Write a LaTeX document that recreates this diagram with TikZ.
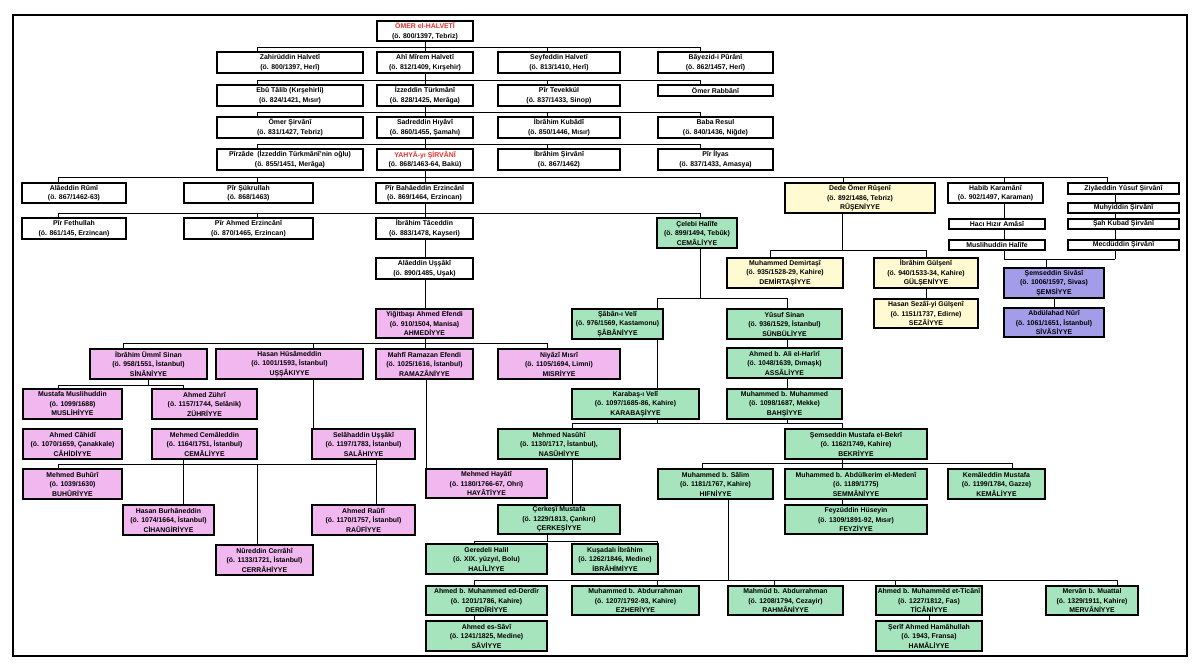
\documentclass[tikz,border=0pt]{standalone}
\usepackage{fontspec}
\setmainfont{Liberation Sans}
\usetikzlibrary{calc}
\definecolor{pk}{HTML}{F0B8EE}
\definecolor{gr}{HTML}{A6E4BE}
\definecolor{ye}{HTML}{FFFAD2}
\definecolor{pu}{HTML}{A39CE8}
\definecolor{rd}{HTML}{E8302A}
\newcommand\bx[7]{\pgfmathsetmacro\bw{#4-#2}\pgfmathsetmacro\bh{#5-#3}\pgfmathsetmacro\bcx{(#2+#4)/2}\pgfmathsetmacro\bcy{(#3+#5)/2}\node[box,#6,minimum width=\bw pt,minimum height=\bh pt] (#1) at (\bcx,\bcy) {#7};}
\newcommand\vv[3]{\draw[ln] let \p1=(#1.south), \p2=(#2.north) in (#3,\y1) -- (#3,\y2);}
\newcommand\upb[3]{\draw[ln] let \p1=(#1.south) in (#2,\y1) -- (#2,#3);}
\newcommand\dnb[3]{\draw[ln] let \p1=(#1.north) in (#2,#3) -- (#2,\y1);}
\newcommand\hb[3]{\draw[ln] (#1,#3) -- (#2,#3);}
\begin{document}
\begin{tikzpicture}[x=1pt,y=-1pt,
 box/.style={draw=black,line width=1.2pt,fill=white,inner sep=0pt,align=center,font=\fontsize{6.9}{9.5}\selectfont\bfseries},
 w/.style={fill=white}, p/.style={fill=pk}, g/.style={fill=gr}, yy/.style={fill=ye}, u/.style={fill=pu},
 ln/.style={line width=1pt,black}]
\useasboundingbox (0,0) rectangle (1200,672);
\draw[line width=1.5pt] (13,15) rectangle (1187,656);
% connectors first
\hb{257}{700}{47}\hb{257}{700}{80}\hb{257}{700}{112}\hb{257}{700}{144}
\hb{58}{1107}{177}\hb{58}{700}{213}
\hb{1004}{1115}{259}\hb{770}{926}{250}\hb{657}{787}{298}
\hb{123}{547}{343}\hb{58}{183}{385}\hb{58}{376}{464}
\hb{572}{842}{423}\hb{702}{1012}{463}\hb{474}{657}{541}\hb{474}{1117}{580}
% boxes
\bx{omer}{377}{21}{473}{41}{w}{\textcolor{rd}{ÖMER el-HALVETÎ}\\(ö. 800/1397, Tebriz)}
\bx{zahir}{217}{52}{363}{73}{w}{Zahirüddin Halvetî\\(ö. 800/1397, Herî)}
\bx{ahi}{377}{52}{473}{73}{w}{Ahî Mîrem Halvetî\\(ö. 812/1409, Kırşehir)}
\bx{seyf}{498}{52}{620}{73}{w}{Seyfeddin Halvetî\\(ö. 813/1410, Herî)}
\bx{bay}{658}{52}{773}{73}{w}{Bâyezid-i Pûrânî\\(ö. 862/1457, Herî)}
\bx{ebu}{217}{85}{363}{106}{w}{Ebû Tâlib (Kırşehirli)\\(ö. 824/1421, Mısır)}
\bx{izz}{377}{85}{473}{106}{w}{İzzeddin Türkmânî\\(ö. 828/1425, Merâga)}
\bx{tev}{498}{85}{620}{106}{w}{Pîr Tevekkül\\(ö. 837/1433, Sinop)}
\bx{rab}{658}{85}{773}{96}{w}{Ömer Rabbânî}
\bx{omers}{217}{117}{363}{138}{w}{Ömer Şirvânî\\(ö. 831/1427, Tebriz)}
\bx{sadr}{377}{117}{473}{138}{w}{Sadreddin Hıyâvî\\(ö. 860/1455, Şamahı)}
\bx{kub}{498}{117}{620}{138}{w}{İbrâhim Kubâdî\\(ö. 850/1446, Mısır)}
\bx{baba}{658}{117}{773}{138}{w}{Baba Resul\\(ö. 840/1436, Niğde)}
\bx{pirz}{217}{149}{363}{170}{w}{Pîrzâde\ \ (İzzeddin Türkmânî'nin oğlu)\\(ö. 855/1451, Merâga)}
\bx{yahya}{377}{149}{473}{170}{w}{\textcolor{rd}{YAHYÂ-yı ŞİRVÂNÎ}\\(ö. 868/1463-64, Bakü)}
\bx{ibsir}{498}{149}{620}{170}{w}{İbrâhim Şirvânî\\(ö. 867/1462)}
\bx{ilyas}{658}{149}{773}{170}{w}{Pîr İlyas\\(ö. 837/1433, Amasya)}
\bx{alarumi}{22}{183}{126}{203}{w}{Alâeddin Rûmî\\(ö. 867/1462-63)}
\bx{sukr}{184}{183}{313}{203}{w}{Pîr Şükrullah\\(ö. 868/1463)}
\bx{bahaeddin}{376}{183}{473}{203}{w}{Pîr Bahâeddin Erzincânî\\(ö. 869/1464, Erzincan)}
\bx{dede}{785}{183}{935}{213}{yy}{Dede Ömer Rûşenî\\(ö. 892/1486, Tebriz)\\RÛŞENİYYE}
\bx{habib}{948}{183}{1043}{203}{w}{Habib Karamânî\\(ö. 902/1497, Karaman)}
\bx{ziya}{1068}{183}{1179}{194}{w}{Ziyâeddin Yûsuf Şirvânî}
\bx{feth}{22}{218}{126}{239}{w}{Pîr Fethullah\\(ö. 861/145, Erzincan)}
\bx{ahmerz}{184}{218}{313}{239}{w}{Pîr Ahmed Erzincânî\\(ö. 870/1465, Erzincan)}
\bx{ibtac}{376}{218}{473}{239}{w}{İbrâhim Tâceddin\\(ö. 883/1478, Kayseri)}
\bx{celebi}{657}{218}{737}{248}{g}{Çelebi Halîfe\\(ö. 899/1494, Tebûk)\\CEMÂLİYYE}
\bx{muhy}{1068}{203}{1179}{213}{w}{Muhyiddin Şirvânî}
\bx{haci}{949}{219}{1045}{229}{w}{Hacı Hızır Amâsî}
\bx{sah}{1068}{219}{1179}{229}{w}{Şah Kubad Şirvânî}
\bx{musl}{949}{240}{1045}{250}{w}{Muslihuddin Halîfe}
\bx{mecd}{1068}{240}{1179}{250}{w}{Mecdüddin Şirvânî}
\bx{uss}{376}{258}{473}{279}{w}{Alâeddin Uşşâkî\\(ö. 890/1485, Uşak)}
\bx{demir}{727}{258}{843}{288}{yy}{Muhammed Demirtaşî\\(ö. 935/1528-29, Kahire)\\DEMİRTAŞİYYE}
\bx{gulseni}{874}{258}{978}{288}{yy}{İbrâhim Gülşenî\\(ö. 940/1533-34, Kahire)\\GÜLŞENİYYE}
\bx{semsiv}{1004}{268}{1104}{298}{u}{Şemseddin Sivâsî\\(ö. 1006/1597, Sivas)\\ŞEMSİYYE}
\bx{sezai}{874}{299}{978}{328}{yy}{Hasan Sezâî-yi Gülşenî\\(ö. 1151/1737, Edirne)\\SEZÂİYYE}
\bx{abdnuri}{1004}{308}{1104}{337}{u}{Abdülahad Nûrî\\(ö. 1061/1651, İstanbul)\\SİVÂSİYYE}
\bx{yigit}{376}{309}{473}{338}{p}{Yiğitbaşı Ahmed Efendi\\(ö. 910/1504, Manisa)\\AHMEDİYYE}
\bx{saban}{572}{309}{663}{339}{g}{Şâbân-ı Velî\\(ö. 976/1569, Kastamonu)\\ŞÂBÂNİYYE}
\bx{yusuf}{727}{309}{842}{339}{g}{Yûsuf Sinan\\(ö. 936/1529, İstanbul)\\SÜNBÜLİYYE}
\bx{ummi}{90}{349}{207}{379}{p}{İbrâhim Ümmî Sinan\\(ö. 958/1551, İstanbul)\\SİNÂNİYYE}
\bx{husam}{216}{349}{363}{379}{p}{Hasan Hüsâmeddin\\(ö. 1001/1593, İstanbul)\\UŞŞÂKIYYE}
\bx{mahfi}{376}{349}{473}{379}{p}{Mahfî Ramazan Efendi\\(ö. 1025/1616, İstanbul)\\RAMAZÂNİYYE}
\bx{niyazi}{498}{349}{620}{379}{p}{Niyâzî Mısrî\\(ö. 1105/1694, Limni)\\MISRİYYE}
\bx{harir}{727}{348}{842}{378}{g}{Ahmed b. Ali el-Harîrî\\(ö. 1048/1639, Dımaşk)\\ASSÂLİYYE}
\bx{muslih}{23}{389}{122}{419}{p}{Mustafa Muslihuddin\\(ö. 1099/1688)\\MUSLİHİYYE}
\bx{zuhri}{152}{389}{257}{419}{p}{Ahmed Zührî\\(ö. 1157/1744, Selânik)\\ZÜHRİYYE}
\bx{karabas}{572}{389}{699}{419}{g}{Karabaş-ı Velî\\(ö. 1097/1685-86, Kahire)\\KARABAŞİYYE}
\bx{muhmuh}{727}{389}{842}{419}{g}{Muhammed b. Muhammed\\(ö. 1098/1687, Mekke)\\BAHŞİYYE}
\bx{cahidi}{23}{429}{122}{459}{p}{Ahmed Câhidî\\(ö. 1070/1659, Çanakkale)\\CÂHİDİYYE}
\bx{cemal}{152}{429}{257}{459}{p}{Mehmed Cemâleddin\\(ö. 1164/1751, İstanbul)\\CEMÂLİYYE}
\bx{selah}{312}{429}{415}{459}{p}{Selâhaddin Uşşâkî\\(ö. 1197/1783, İstanbul)\\SALÂHIYYE}
\bx{nasuhi}{498}{429}{620}{459}{g}{Mehmed Nasûhî\\(ö. 1130/1717, İstanbul),\\NASÛHİYYE}
\bx{bekri}{785}{429}{927}{459}{g}{Şemseddin Mustafa el-Bekrî\\(ö. 1162/1749, Kahire)\\BEKRİYYE}
\bx{buhuri}{23}{469}{122}{499}{p}{Mehmed Buhûrî\\(ö. 1039/1630)\\BUHÛRİYYE}
\bx{hayati}{426}{469}{547}{498}{p}{Mehmed Hayâtî\\(ö. 1180/1766-67, Ohri)\\HAYÂTİYYE}
\bx{salim}{658}{469}{773}{499}{g}{Muhammed b. Sâlim\\(ö. 1181/1767, Kahire)\\HIFNİYYE}
\bx{abdulk}{785}{469}{927}{499}{g}{Muhammed b. Abdülkerim el-Medenî\\(ö. 1189/1775)\\SEMMÂNİYYE}
\bx{kemal}{948}{469}{1045}{499}{g}{Kemâleddin Mustafa\\(ö. 1199/1784, Gazze)\\KEMÂLİYYE}
\bx{burhan}{123}{505}{214}{535}{p}{Hasan Burhâneddin\\(ö. 1074/1664, İstanbul)\\CİHANGİRİYYE}
\bx{raufi}{312}{505}{415}{535}{p}{Ahmed Raûfî\\(ö. 1170/1757, İstanbul)\\RAÛFİYYE}
\bx{cerkesi}{498}{505}{620}{534}{g}{Çerkeşî Mustafa\\(ö. 1229/1813, Çankırı)\\ÇERKEŞİYYE}
\bx{feyz}{785}{505}{927}{534}{g}{Feyzüddin Hüseyin\\(ö. 1309/1891-92, Mısır)\\FEYZİYYE}
\bx{cerrahi}{216}{545}{313}{575}{p}{Nûreddin Cerrâhî\\(ö. 1133/1721, İstanbul)\\CERRÂHİYYE}
\bx{geredeli}{426}{544}{547}{574}{g}{Geredeli Halil\\(ö. XIX. yüzyıl, Bolu)\\HALÎLİYYE}
\bx{kusadali}{572}{544}{658}{574}{g}{Kuşadalı İbrâhim\\(ö. 1262/1846, Medine)\\İBRÂHİMİYYE}
\bx{derdir}{426}{586}{547}{615}{g}{Ahmed b. Muhammed ed-Derdîr\\(ö. 1201/1786, Kahire)\\DERDÎRİYYE}
\bx{ezher}{572}{586}{699}{615}{g}{Muhammed b. Abdurrahman\\(ö. 1207/1792-93, Kahire)\\EZHERİYYE}
\bx{mahmud}{728}{586}{843}{615}{g}{Mahmûd b. Abdurrahman\\(ö. 1208/1794, Cezayir)\\RAHMÂNİYYE}
\bx{ticani}{876}{586}{982}{615}{g}{Ahmed b. Muhammêd et-Ticânî\\(ö. 1227/1812, Fas)\\TİCÂNİYYE}
\bx{mervan}{1046}{586}{1138}{615}{g}{Mervân b. Muattal\\(ö. 1329/1911, Kahire)\\MERVÂNİYYE}
\bx{savi}{426}{621}{547}{651}{g}{Ahmed es-Sâvî\\(ö. 1241/1825, Medine)\\SÂVİYYE}
\bx{hamal}{876}{621}{982}{651}{g}{Şerîf Ahmed Hamâhullah\\(ö. 1943, Fransa)\\HAMÂLİYYE}
% stubs
\upb{omer}{425}{47}\dnb{zahir}{257}{47}\dnb{ahi}{425}{47}\dnb{seyf}{547}{47}\dnb{bay}{700}{47}
\upb{ahi}{425}{80}\dnb{ebu}{257}{80}\dnb{izz}{425}{80}\dnb{tev}{547}{80}\dnb{rab}{700}{80}
\upb{izz}{425}{112}\dnb{omers}{257}{112}\dnb{sadr}{425}{112}\dnb{kub}{547}{112}\dnb{baba}{700}{112}
\upb{sadr}{425}{144}\dnb{pirz}{257}{144}\dnb{yahya}{425}{144}\dnb{ibsir}{547}{144}\dnb{ilyas}{700}{144}
\upb{yahya}{425}{177}\dnb{alarumi}{58}{177}\dnb{sukr}{257}{177}\dnb{bahaeddin}{425}{177}\dnb{dede}{843}{177}\dnb{habib}{1004}{177}\dnb{ziya}{1107}{177}
\upb{bahaeddin}{425}{213}\dnb{feth}{58}{213}\dnb{ahmerz}{257}{213}\dnb{ibtac}{425}{213}\dnb{celebi}{700}{213}
\vv{habib}{haci}{1004}\vv{haci}{musl}{1004}\vv{ziya}{muhy}{1115}\vv{muhy}{sah}{1115}\vv{sah}{mecd}{1115}
\upb{musl}{1004}{259}\upb{mecd}{1115}{259}\dnb{semsiv}{1046}{259}\vv{semsiv}{abdnuri}{1054}
\upb{dede}{842}{250}\dnb{demir}{770}{250}\dnb{gulseni}{926}{250}\vv{gulseni}{sezai}{926}
\vv{ibtac}{uss}{425}\vv{uss}{yigit}{425}
\upb{celebi}{700}{298}\dnb{saban}{657}{298}\dnb{yusuf}{787}{298}
\upb{yigit}{425}{343}\dnb{ummi}{123}{343}\dnb{husam}{313}{343}\dnb{mahfi}{425}{343}\dnb{niyazi}{547}{343}
\upb{ummi}{148}{385}\dnb{muslih}{58}{385}\dnb{zuhri}{183}{385}
\vv{husam}{selah}{313}
\upb{cemal}{183}{464}\upb{selah}{376}{464}\dnb{buhuri}{58}{464}\dnb{burhan}{183}{464}\dnb{cerrahi}{257}{464}\dnb{raufi}{376}{464}
\vv{mahfi}{hayati}{426}
\vv{saban}{karabas}{657}\vv{yusuf}{harir}{787}\vv{harir}{muhmuh}{787}
\upb{karabas}{657}{423}\upb{muhmuh}{787}{423}\dnb{nasuhi}{572}{423}\dnb{bekri}{842}{423}
\upb{bekri}{842}{463}\dnb{salim}{702}{463}\dnb{abdulk}{842}{463}\dnb{kemal}{1012}{463}\vv{abdulk}{feyz}{842}
\vv{nasuhi}{cerkesi}{572}
\upb{cerkesi}{547}{541}\dnb{geredeli}{474}{541}\dnb{kusadali}{657}{541}
\upb{salim}{728}{580}\dnb{derdir}{474}{580}\dnb{ezher}{657}{580}\dnb{mahmud}{774}{580}\dnb{ticani}{895}{580}\dnb{mervan}{1117}{580}
\vv{derdir}{savi}{474}\vv{ticani}{hamal}{929}
\end{tikzpicture}
\end{document}
